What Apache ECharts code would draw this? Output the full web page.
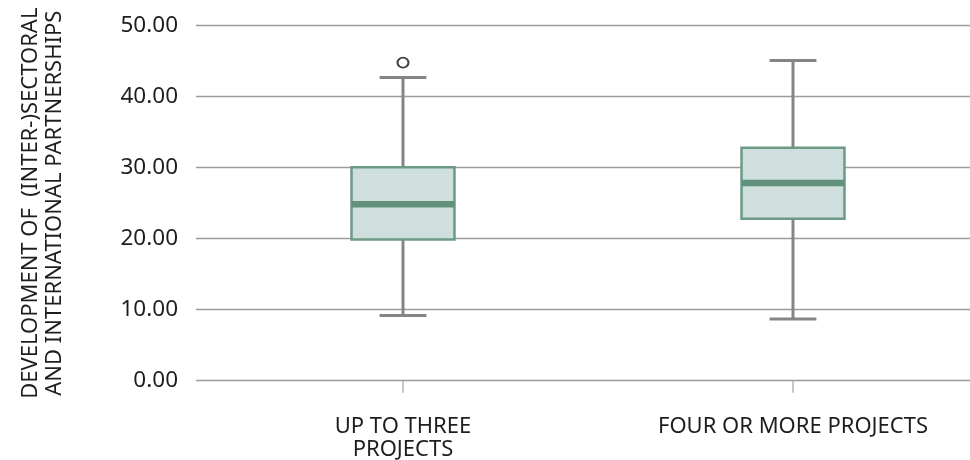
<!DOCTYPE html>
<html>
<head>
<meta charset="utf-8">
<script src="https://cdn.jsdelivr.net/npm/echarts@6/dist/echarts.min.js"></script>
<style>
html,body{margin:0;padding:0;background:#fff;}
#chart{width:970px;height:460px;}
</style>
</head>
<body>
<div id="chart"></div>
<script>
// ---- data ----
var categories = ['UP TO THREE\nPROJECTS', 'FOUR OR MORE PROJECTS'];
var lowWhisker = [9.2, 8.7];
var q1 = [19.9, 22.8];
var median = [24.85, 27.85];
var q3 = [30.05, 32.8];
var highWhisker = [42.7, 45.1];
var outlierCategory = [0];
var outlierValue = [44.8];
var yTitle = 'DEVELOPMENT OF  (INTER-)SECTORAL\nAND INTERNATIONAL PARTNERSHIPS';

// ---- build ----
var boxData = categories.map(function (c, i) {
  return [i, lowWhisker[i], q1[i], median[i], q3[i], highWhisker[i]];
});
var outData = outlierCategory.map(function (c, i) { return [c, outlierValue[i]]; });

var FONT = '"Noto Sans", "Open Sans", sans-serif';
var TEXT = '#1e1e1e';

function renderBox(params, api) {
  var x = api.value(0);
  var band = api.size([1, 0])[0];
  var bw = band * 0.264;
  var cw = band * 0.12;
  var pLow = api.coord([x, api.value(1)]);
  var pQ1 = api.coord([x, api.value(2)]);
  var pMed = api.coord([x, api.value(3)]);
  var pQ3 = api.coord([x, api.value(4)]);
  var pHigh = api.coord([x, api.value(5)]);
  var cx = pMed[0];
  var whisk = {stroke: '#858585', lineWidth: 3};
  return {
    type: 'group',
    children: [
      {type: 'line', shape: {x1: cx, y1: pHigh[1], x2: cx, y2: pQ3[1]}, style: whisk},
      {type: 'line', shape: {x1: cx, y1: pQ1[1], x2: cx, y2: pLow[1]}, style: whisk},
      {type: 'line', shape: {x1: cx - cw / 2, y1: pHigh[1], x2: cx + cw / 2, y2: pHigh[1]}, style: whisk},
      {type: 'line', shape: {x1: cx - cw / 2, y1: pLow[1], x2: cx + cw / 2, y2: pLow[1]}, style: whisk},
      {type: 'rect', shape: {x: cx - bw / 2, y: pQ3[1], width: bw, height: pQ1[1] - pQ3[1]},
        style: {fill: '#cfdfde', stroke: '#6c9a85', lineWidth: 2.5}},
      {type: 'line', shape: {x1: cx - bw / 2, y1: pMed[1], x2: cx + bw / 2, y2: pMed[1]},
        style: {stroke: '#62917b', lineWidth: 6.5}}
    ]
  };
}

var chart = echarts.init(document.getElementById('chart'), null, {renderer: 'canvas'});
chart.setOption({
  animation: false,
  backgroundColor: '#ffffff',
  grid: [
    {left: 196, right: -10, top: 25.7, bottom: 79.3, outerBoundsMode: 'none', containLabel: false},
    {left: 208, right: -18, top: 25.7, bottom: 79.3, outerBoundsMode: 'none', containLabel: false}
  ],
  xAxis: [
    {gridIndex: 0, type: 'value', min: 0, max: 1, show: false},
    {
      gridIndex: 1, type: 'category', data: categories, boundaryGap: true,
      axisLine: {show: false},
      axisTick: {show: true, alignWithLabel: true, length: 12, lineStyle: {color: '#b5b5b5', width: 1.5}},
      axisLabel: {interval: 0, margin: 35, color: TEXT, fontSize: 22, fontFamily: FONT, lineHeight: 23}
    }
  ],
  yAxis: [
    {
      gridIndex: 0, type: 'value', min: 0, max: 50, interval: 10,
      axisLine: {show: false}, axisTick: {show: false},
      splitLine: {show: true, lineStyle: {color: '#9c9c9c', width: 1.4}},
      axisLabel: {margin: 18, color: TEXT, fontSize: 22.5, fontFamily: FONT,
        formatter: function (v) { return v.toFixed(2); }},
      name: yTitle, nameLocation: 'middle', nameGap: 129, nameRotate: 90,
      nameTextStyle: {color: TEXT, fontSize: 22, fontFamily: FONT, lineHeight: 24, align: 'center'}
    },
    {gridIndex: 1, type: 'value', min: 0, max: 50, show: false}
  ],
  series: [
    {
      type: 'custom', xAxisIndex: 1, yAxisIndex: 1,
      renderItem: renderBox, data: boxData,
      encode: {x: 0, y: [1, 2, 3, 4, 5]}
    },
    {
      type: 'scatter', xAxisIndex: 1, yAxisIndex: 1,
      data: outData, symbol: 'emptyCircle', symbolSize: [11, 10],
      itemStyle: {color: '#111111', borderColor: '#111111', borderWidth: 3}
    }
  ]
});
</script>
</body>
</html>
